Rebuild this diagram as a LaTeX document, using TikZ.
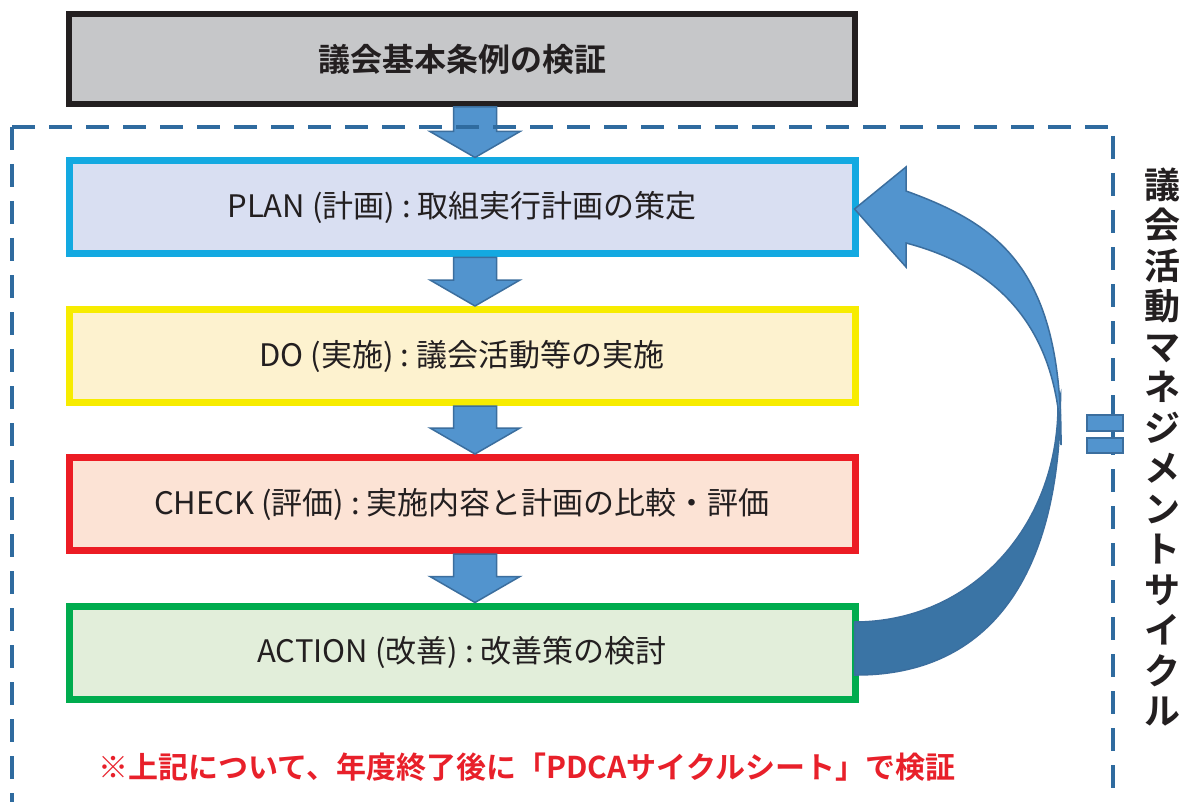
\documentclass[tikz,border=0pt]{standalone}
\usepackage{fontspec}
\newfontfamily\jp{Noto Sans CJK JP}
\newfontfamily\jpb{Noto Sans CJK JP}[UprightFont=* Bold]
\usetikzlibrary{calc}
\definecolor{inkc}{HTML}{231F20}
\definecolor{grayfill}{HTML}{C6C7C9}
\definecolor{planline}{HTML}{13A9E1}
\definecolor{planfill}{HTML}{D9DFF2}
\definecolor{doline}{HTML}{F7EC00}
\definecolor{dofill}{HTML}{FDF2CF}
\definecolor{checkline}{HTML}{EC1C24}
\definecolor{checkfill}{HTML}{FCE3D5}
\definecolor{actline}{HTML}{00AC4E}
\definecolor{actfill}{HTML}{E2EEDA}
\definecolor{redtext}{HTML}{E8202A}
\definecolor{arrlight}{HTML}{5294CE}
\definecolor{arrdark}{HTML}{3A74A5}
\definecolor{arredge}{HTML}{3B6E9E}
\definecolor{dashblue}{HTML}{2F6B9F}
\tikzset{
  stepbox/.style={draw, line width=7, minimum width=786, minimum height=93,
    inner sep=0, text=inkc, font=\jp\fontsize{31}{38}\selectfont},
  blockarrow/.style={fill=arrlight, draw=arredge, line width=1.5, line join=miter},
  dashbox/.style={draw=dashblue, line width=4.5, dash pattern=on 23pt off 14pt},
}
\newcommand\flowarrow[2]{%
  \path[blockarrow] let \p1=(#1.south), \p2=(#2.north) in
    (\x1+13pt-21.5pt,\y1) -- (\x1+13pt+21.5pt,\y1) -- (\x1+13pt+21.5pt,\y2+26pt)
    -- (\x1+13pt+45pt,\y2+26pt) -- (\x1+13pt,\y2) -- (\x1+13pt-45pt,\y2+26pt)
    -- (\x1+13pt-21.5pt,\y2+26pt) -- cycle;}
\newcommand\lbl[3]{#1\ (#2)\ :\ #3}
\begin{document}
\begin{tikzpicture}[x=1pt,y=-1pt]
\useasboundingbox (0,0) rectangle (1201,802);
\fill[white] (0,0) rectangle (1201,802);

% boxes
\node[stepbox, draw=inkc, fill=grayfill, line width=6, minimum height=90,
  font=\jpb\fontsize{32}{38}\selectfont] (top) at (462,59) {議会基本条例の検証};
\node[stepbox, draw=planline, fill=planfill] (plan) at (462,207.5) {\lbl{PLAN}{計画}{取組実行計画の策定}};
\node[stepbox, draw=doline, fill=dofill] (do) at (462,356) {\lbl{DO}{実施}{議会活動等の実施}};
\node[stepbox, draw=checkline, fill=checkfill] (check) at (462,504) {\lbl{CHECK}{評価}{実施内容と計画の比較・評価}};
\node[stepbox, draw=actline, fill=actfill] (act) at (462,652.5) {\lbl{ACTION}{改善}{改善策の検討}};

% down arrows
\flowarrow{top}{plan}
\flowarrow{plan}{do}
\flowarrow{do}{check}
\flowarrow{check}{act}

% dashed frame
\draw[dashbox] (12,127) -- (12,815);
\draw[dashbox] (12,127) -- (1113,127) -- (1113,815);

% break mark on the right side
\filldraw[fill=arrlight, draw=arredge, line width=1.5] (1087,415) rectangle (1123,431);
\filldraw[fill=arrlight, draw=arredge, line width=1.5] (1087,438) rectangle (1123,453);

% curved return arrow (ACTION -> PLAN)
\coordinate (lowout) at ($(act.east)+(-4,22.5)$);
\coordinate (lowin) at ($(act.east)+(-4,-30.5)$);
\filldraw[fill=arrdark, draw=arredge, line width=1.5]
  (1060.5,395) .. controls (1061,575) and (990,676) .. (lowout)
  -- (lowin) .. controls (970,622) and (1058,528) .. (1058,405) -- cycle;
\filldraw[fill=arrlight, draw=arredge, line width=1.5, line join=miter]
  ($(plan.east)+(-4,1.5)$) -- (906,167) -- (906,191)
  .. controls (1000,225) and (1062,270) .. (1061,445)
  .. controls (1058,320) and (990,265) .. (906,243) -- (906,267) -- cycle;

% vertical label
\node[text=inkc, font=\jpb\fontsize{36}{40.5}\selectfont, align=center, inner sep=0] (side) at (1162,447)
  {議\\会\\活\\動\\マ\\ネ\\ジ\\メ\\ン\\ト\\サ\\イ\\ク\\ル};

% note
\node[text=redtext, font=\jpb\fontsize{30}{36}\selectfont, inner sep=0] (note) at (527,767)
  {※上記について、年度終了後に「PDCAサイクルシート」で検証};
\end{tikzpicture}
\end{document}
